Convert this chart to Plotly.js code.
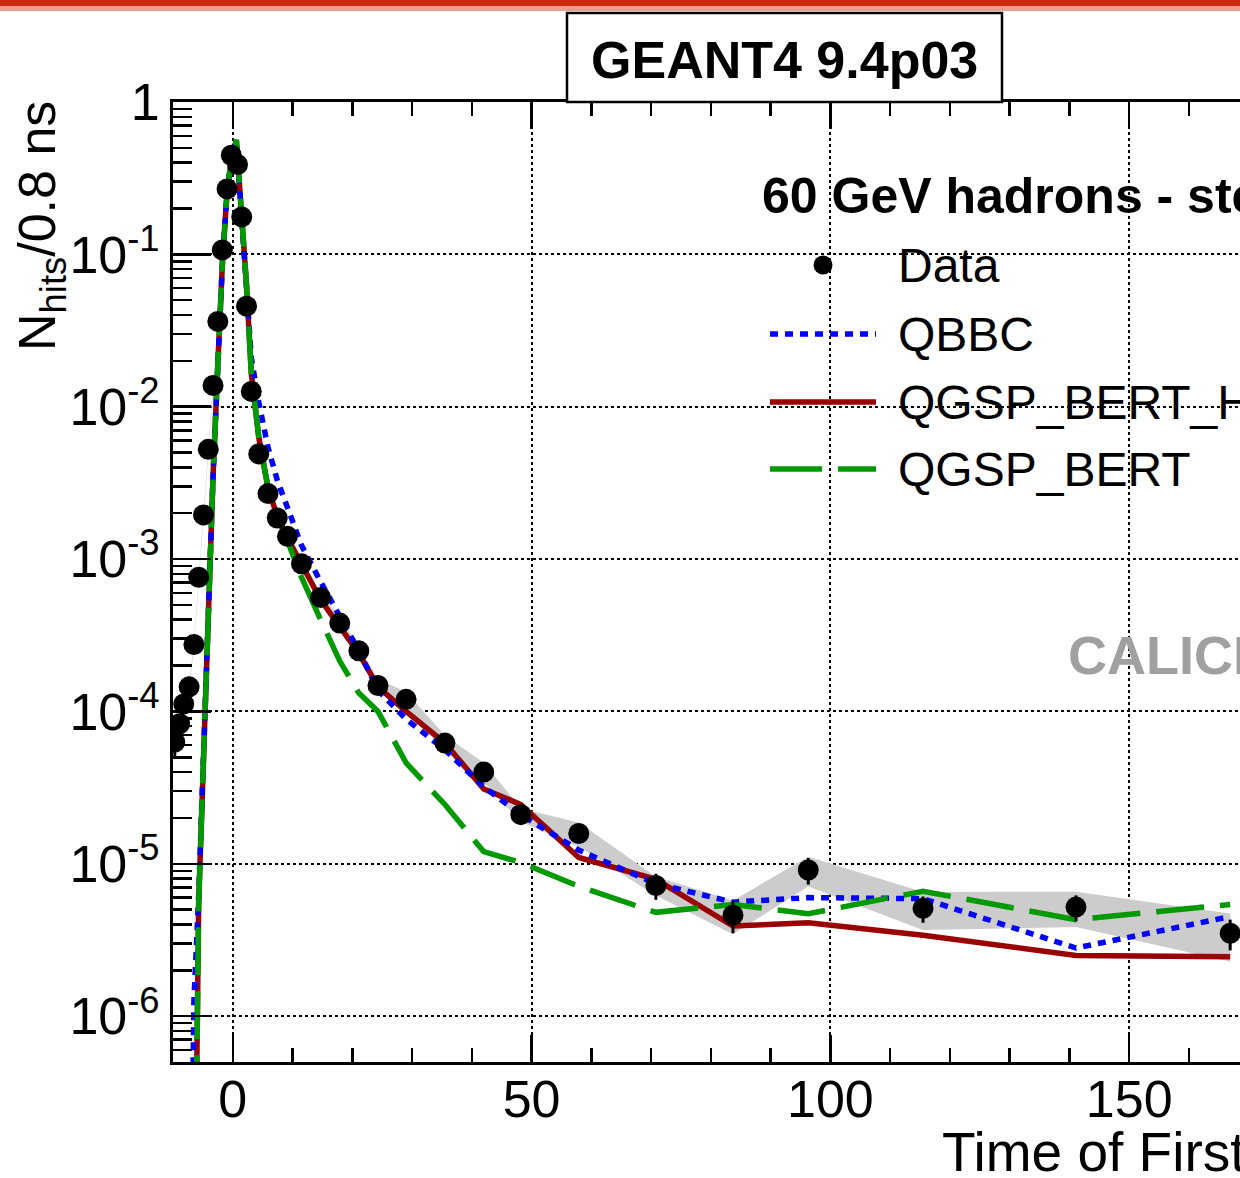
<!DOCTYPE html>
<html><head><meta charset="utf-8">
<script src="https://cdn.plot.ly/plotly-3.0.1.min.js"></script>
<style>html,body{margin:0;padding:0;overflow:hidden;background:#fff;width:1240px;height:1178px}</style>
</head><body><div id="chart" style="width:1500px;height:1178px"></div>
<script>
// ---- Data ----
const dataX = [-9.7,-8.9,-8.2,-7.3,-6.5,-5.7,-4.9,-4.1,-3.3,-2.5,-1.75,-0.95,-0.25,0.8,1.5,2.3,3.1,4.35,5.9,7.45,9.15,11.5,14.7,17.9,21.1,24.3,29.0,35.5,42.0,48.2,57.9,70.8,83.7,96.3,115.5,141.1,166.9];
const dataY = [6.3e-5,8.3e-5,1.12e-4,1.45e-4,2.75e-4,7.6e-4,1.95e-3,5.25e-3,1.38e-2,3.63e-2,0.107,0.269,0.447,0.389,0.176,0.0457,0.0126,4.9e-3,2.69e-3,1.86e-3,1.41e-3,9.3e-4,5.6e-4,3.8e-4,2.5e-4,1.48e-4,1.2e-4,6.2e-5,4.0e-5,2.1e-5,1.58e-5,7.2e-6,4.6e-6,9.1e-6,5.1e-6,5.2e-6,3.5e-6];
const dataStatErr = [1.3e-5,1e-5,1e-5,1e-5,1e-5,0,0,0,0,0,0,0,0,0,0,0,0,0,0,0,0,0,0,0,0,0,0,2e-6,2e-6,2e-6,1.5e-6,1.4e-6,1.1e-6,1.8e-6,1.0e-6,1.0e-6,0.8e-6];
const dataSysRel = [0.04,0.04,0.04,0.04,0.04,0.04,0.04,0.04,0.04,0.04,0.04,0.04,0.04,0.04,0.04,0.05,0.05,0.06,0.06,0.06,0.07,0.07,0.08,0.08,0.08,0.1,0.12,0.12,0.15,0.1,0.18,0.14,0.25,0.22,0.28,0.26,0.35];

const mcX = [-9.7,-8.9,-8.1,-7.3,-6.5,-5.7,-4.9,-4.1,-3.3,-2.5,-1.7,-0.9,-0.1,0.6,1.5,2.3,3.1,4.35,5.9,7.45,9.15,11.5,14.7,17.9,21.1,24.3,29.0,35.5,42.0,48.2,57.9,70.8,83.7,96.3,115.5,141.1,166.9];
const qbbc = [1e-12,1e-12,1e-11,3.2e-9,1.26e-6,6.3e-6,5.4e-5,5.6e-4,3.5e-3,1.86e-2,9.3e-2,0.275,0.437,0.55,0.178,0.063,0.021,1.07e-2,5.4e-3,3.3e-3,2.14e-3,1.23e-3,7.1e-4,4.3e-4,2.5e-4,1.38e-4,8.9e-5,5.6e-5,3.2e-5,2.1e-5,1.23e-5,7.4e-6,5.6e-6,6.0e-6,5.9e-6,2.8e-6,4.5e-6];
const qgspBertHP = [1e-12,1e-12,1e-11,3.2e-10,1e-8,5.6e-6,5.4e-5,5.6e-4,3.5e-3,1.86e-2,9.3e-2,0.275,0.437,0.562,0.178,0.063,0.0166,6.3e-3,2.95e-3,1.9e-3,1.38e-3,9.1e-4,5.4e-4,3.6e-4,2.4e-4,1.45e-4,1.0e-4,6.2e-5,3.1e-5,2.45e-5,1.1e-5,7.9e-6,3.9e-6,4.1e-6,3.4e-6,2.5e-6,2.45e-6];
const qgspBert = [1e-12,1e-12,1e-11,3.2e-10,1e-8,5.6e-6,5.4e-5,5.6e-4,3.5e-3,1.86e-2,9.3e-2,0.275,0.437,0.565,0.178,0.063,0.0166,6.3e-3,2.95e-3,1.9e-3,1.32e-3,7.6e-4,4.0e-4,2.14e-4,1.32e-4,1.0e-4,4.6e-5,2.45e-5,1.2e-5,1.02e-5,7.1e-6,4.8e-6,5.4e-6,4.7e-6,6.6e-6,4.3e-6,5.4e-6];

const yTickVals = [1e-6,1e-5,1e-4,1e-3,1e-2,1e-1,1];
const yTickText = ['10<sup>-6</sup>','10<sup>-5</sup>','10<sup>-4</sup>','10<sup>-3</sup>','10<sup>-2</sup>','10<sup>-1</sup>','1'];
const legendNames = ['Data','QBBC','QGSP_BERT_HP','QGSP_BERT'];
const headerText = '60 GeV hadrons - steel';
const titleText = 'GEANT4 9.4p03';

// ---- derived ----
const bandUp = dataY.map((v,i)=>v*(1+dataSysRel[i]));
const bandDn = dataY.map((v,i)=>v*(1-dataSysRel[i]));
const minorVals = [];
for (let d=-7; d<0; d++) for (let k=2; k<=9; k++) minorVals.push(k*Math.pow(10,d));

const FONT = 'Liberation Sans, Arial, Helvetica, sans-serif';
const BLUE='#0000ff', RED='#990000', GREEN='#009900';

const traces = [
  {x: dataX.concat(dataX.slice().reverse()), y: bandUp.concat(bandDn.slice().reverse()),
   mode:'lines', fill:'toself', fillcolor:'#cccccc', line:{width:0,color:'#cccccc'}, hoverinfo:'skip', showlegend:false},
  {x: mcX, y: qgspBertHP, mode:'lines', name:legendNames[2], line:{color:RED,width:5.5}, showlegend:false},
  {x: mcX, y: qbbc, mode:'lines', name:legendNames[1], line:{color:BLUE,width:5.5,dash:'8px,7px'}, showlegend:false},
  {x: mcX, y: qgspBert, mode:'lines', name:legendNames[3], line:{color:GREEN,width:5.5,dash:'48px,16px'}, showlegend:false},
  {x: dataX, y: dataY, mode:'markers', name:legendNames[0], marker:{color:'black',size:21},
   error_y:{type:'data',array:dataStatErr,visible:true,color:'black',thickness:3,width:0}, showlegend:false}
];

const L=173, PW=1255, T=102, PH=960;
const px = v => (v-L)/PW;
const py = v => (T+PH-v)/PH;

const shapes = [
  // decorative red stripe at the top
  {type:'rect', xref:'paper', yref:'paper', x0:px(-10), x1:px(1300), y0:py(6), y1:py(-5), fillcolor:'#c9290c', line:{width:0}},
  {type:'rect', xref:'paper', yref:'paper', x0:px(-10), x1:px(1300), y0:py(11), y1:py(6), fillcolor:'#c9290c', opacity:0.45, line:{width:0}},
  // title box
  {type:'rect', xref:'paper', yref:'paper', x0:px(567), x1:px(1002), y0:1, y1:py(13), fillcolor:'white', line:{color:'black',width:2.5}},
  // legend samples
  {type:'circle', xref:'paper', yref:'paper', x0:px(823-9.5), x1:px(823+9.5), y0:py(265+9.5), y1:py(265-9.5), fillcolor:'black', line:{width:0}},
  {type:'line', xref:'paper', yref:'paper', x0:px(770), x1:px(876), y0:py(334), y1:py(334), line:{color:BLUE,width:5.5,dash:'8px,7px'}},
  {type:'line', xref:'paper', yref:'paper', x0:px(770), x1:px(876), y0:py(402), y1:py(402), line:{color:RED,width:5.5}},
  {type:'line', xref:'paper', yref:'paper', x0:px(770), x1:px(876), y0:py(469), y1:py(469), line:{color:GREEN,width:5.5,dash:'52px,16px'}}
];

const ann = (text, x, y, opts) => Object.assign({text, xref:'paper', yref:'paper', x, y, showarrow:false,
  xanchor:'left', yanchor:'middle', font:{family:FONT,size:48,color:'black'}}, opts||{});

const annotations = [
  ann('<b>'+titleText+'</b>', px(784.5), py(60), {xanchor:'center', font:{family:FONT,size:52,color:'black'}}),
  ann('<b>'+headerText+'</b>', px(760), py(196), {font:{family:FONT,size:50,color:'black'}}),
  ann(legendNames[0], px(896), py(265)),
  ann(legendNames[1], px(896), py(334)),
  ann(legendNames[2], px(896), py(402)),
  ann(legendNames[3], px(896), py(469)),
  ann('<b>CALICE</b>', px(1066), py(655), {font:{family:FONT,size:54,color:'#a0a0a0'}}),
  ann('Time of First Hit [ns]', px(940), py(1152), {xanchor:'left', font:{family:FONT,size:55,color:'black'}}),
  ann('N<sub>hits</sub>/0.8 ns', px(41), py(99), {xanchor:'center', yanchor:'top', textangle:-90, font:{family:FONT,size:52,color:'black'}})
];

const axisCommon = {showline:true, linecolor:'black', linewidth:3, mirror:'allticks', ticks:'inside',
  tickcolor:'black', tickwidth:2.5, showgrid:true, gridcolor:'black', gridwidth:2, griddash:'3px,3px',
  zeroline:false, automargin:false, tickfont:{family:FONT,size:52,color:'black'}};

const layout = {
  width:1500, height:1178, margin:{l:L, r:1500-L-PW, t:T, b:1178-T-PH, pad:0},
  paper_bgcolor:'white', plot_bgcolor:'white', showlegend:false,
  xaxis: Object.assign({}, axisCommon, {range:[-10,200], tick0:0, dtick:50, ticklen:27, ticklabelstandoff:-10,
     minor:{dtick:10, tick0:0, ticks:'inside', ticklen:14, tickwidth:2.5, tickcolor:'black', showgrid:false}}),
  yaxis: Object.assign({}, axisCommon, {type:'log', range:[Math.log10(5e-7),0], tickmode:'array',
     tickvals:yTickVals, ticktext:yTickText, ticklen:38,
     minor:{tickmode:'array', tickvals:minorVals, ticks:'inside', ticklen:19, tickwidth:2.5, tickcolor:'black', showgrid:false}}),
  shapes, annotations
};

Plotly.newPlot('chart', traces, layout, {staticPlot:true, displayModeBar:false});
</script></body></html>
